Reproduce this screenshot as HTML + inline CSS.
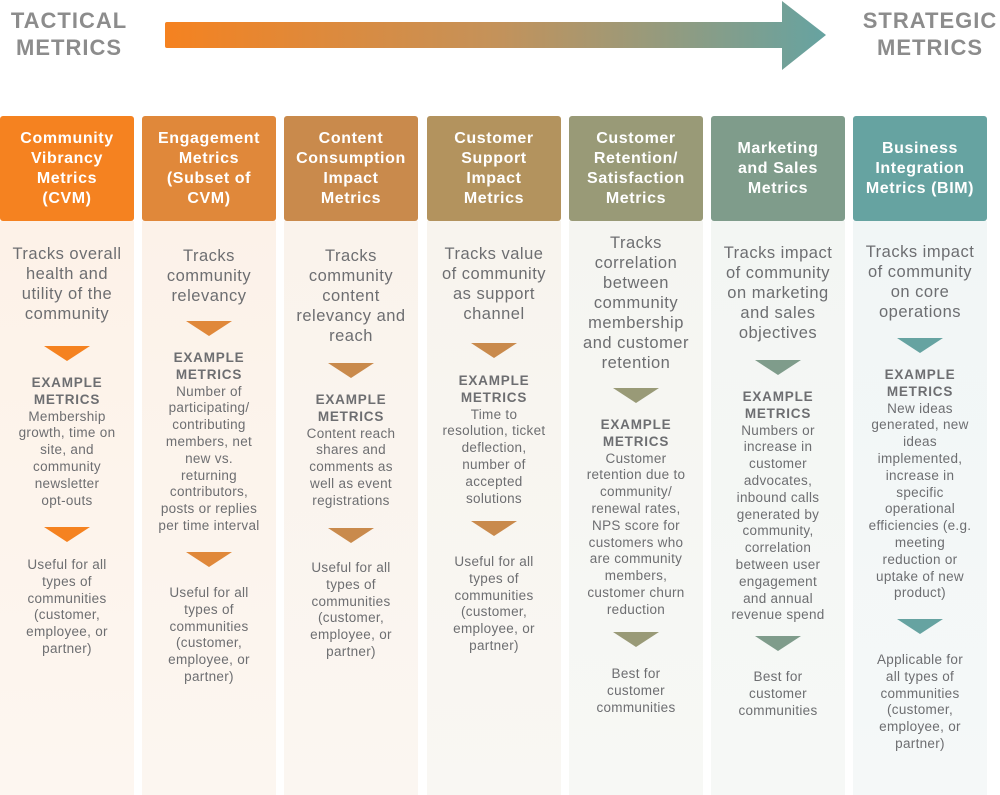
<!DOCTYPE html>
<html><head><meta charset="utf-8"><style>
*{margin:0;padding:0;box-sizing:border-box}
body{width:1000px;height:795px;background:#fff;position:relative;overflow:hidden;font-family:"Liberation Sans",sans-serif;color:#6d6e71}
.t{position:absolute;font-weight:bold;color:#8c8c8c;font-size:22px;line-height:27px;text-align:center;letter-spacing:1px}
.col{position:absolute;top:116px;width:134px;height:679px}
.hd{position:absolute;left:0;top:0;width:134px;height:105px;border-radius:3px;color:#fff;font-weight:bold;font-size:16px;line-height:20px;text-align:center;display:flex;align-items:center;justify-content:center;white-space:nowrap;letter-spacing:0.6px}
.bd{position:absolute;left:0;top:105px;width:134px;height:574px}
.d{position:absolute;left:-10px;width:154px;text-align:center;font-size:16.5px;line-height:20px;white-space:nowrap;letter-spacing:0.5px}
.s{position:absolute;left:-10px;width:154px;text-align:center;font-size:13.5px;line-height:16.8px;white-space:nowrap;letter-spacing:0.3px}
.s b{font-weight:bold;color:#6d6e71;letter-spacing:0.8px}
.tri{position:absolute;left:44px;width:0;height:0;border-left:23px solid transparent;border-right:23px solid transparent;border-top:15px solid}
</style></head><body>
<div class="t" style="left:6px;top:7px;width:126px">TACTICAL<br>METRICS</div>
<div class="t" style="left:860px;top:7px;width:140px">STRATEGIC<br>METRICS</div>
<svg style="position:absolute;left:0;top:0" width="1000" height="80">
<defs><linearGradient id="g" x1="165" x2="826" y1="0" y2="0" gradientUnits="userSpaceOnUse"><stop offset="0" stop-color="#f58220"/><stop offset="0.5" stop-color="#c4925a"/><stop offset="1" stop-color="#66a3a1"/></linearGradient></defs>
<path d="M167 22 H782 V1 L826 35 L782 70 V48 H167 Q165 48 165 46 V24 Q165 22 167 22Z" fill="url(#g)"/>
</svg>

<div class="col" style="left:0">
<div class="hd" style="background:#f58220">Community<br>Vibrancy<br>Metrics<br>(CVM)</div>
<div class="bd" style="background:linear-gradient(#fdf2e8,#fdf6f0)"></div>
<div class="d" style="top:128px">Tracks overall<br>health and<br>utility of the<br>community</div>
<div class="tri" style="top:230px;color:#f58220"></div>
<div class="s" style="top:259px"><b>EXAMPLE<br>METRICS</b><br>Membership<br>growth, time on<br>site, and<br>community<br>newsletter<br>opt-outs</div>
<div class="tri" style="top:411px;color:#f58220"></div>
<div class="s" style="top:441px">Useful for all<br>types of<br>communities<br>(customer,<br>employee, or<br>partner)</div>
</div>

<div class="col" style="left:142px">
<div class="hd" style="background:#e0883a">Engagement<br>Metrics<br>(Subset of<br>CVM)</div>
<div class="bd" style="background:linear-gradient(#fcf2e9,#fcf6f0)"></div>
<div class="d" style="top:130px">Tracks<br>community<br>relevancy</div>
<div class="tri" style="top:205px;color:#e0883a"></div>
<div class="s" style="top:234px"><b>EXAMPLE<br>METRICS</b><br>Number of<br>participating/<br>contributing<br>members, net<br>new vs.<br>returning<br>contributors,<br>posts or replies<br>per time interval</div>
<div class="tri" style="top:436px;color:#e0883a"></div>
<div class="s" style="top:469px">Useful for all<br>types of<br>communities<br>(customer,<br>employee, or<br>partner)</div>
</div>

<div class="col" style="left:284px">
<div class="hd" style="background:#c98a4c">Content<br>Consumption<br>Impact<br>Metrics</div>
<div class="bd" style="background:linear-gradient(#faf3ec,#fbf6f1)"></div>
<div class="d" style="top:130px">Tracks<br>community<br>content<br>relevancy and<br>reach</div>
<div class="tri" style="top:247px;color:#c98a4c"></div>
<div class="s" style="top:276px"><b>EXAMPLE<br>METRICS</b><br>Content reach<br>shares and<br>comments as<br>well as event<br>registrations</div>
<div class="tri" style="top:412px;color:#c98a4c"></div>
<div class="s" style="top:444px">Useful for all<br>types of<br>communities<br>(customer,<br>employee, or<br>partner)</div>
</div>

<div class="col" style="left:427px">
<div class="hd" style="background:#b3935e">Customer<br>Support<br>Impact<br>Metrics</div>
<div class="bd" style="background:linear-gradient(#f8f4ee,#f9f7f3)"></div>
<div class="d" style="top:128px">Tracks value<br>of community<br>as support<br>channel</div>
<div class="tri" style="top:227px;color:#c98a4c"></div>
<div class="s" style="top:257px"><b>EXAMPLE<br>METRICS</b><br>Time to<br>resolution, ticket<br>deflection,<br>number of<br>accepted<br>solutions</div>
<div class="tri" style="top:405px;color:#c98a4c"></div>
<div class="s" style="top:438px">Useful for all<br>types of<br>communities<br>(customer,<br>employee, or<br>partner)</div>
</div>

<div class="col" style="left:569px">
<div class="hd" style="background:#999a77">Customer<br>Retention/<br>Satisfaction<br>Metrics</div>
<div class="bd" style="background:linear-gradient(#f5f5f1,#f7f8f5)"></div>
<div class="d" style="top:117px">Tracks<br>correlation<br>between<br>community<br>membership<br>and customer<br>retention</div>
<div class="tri" style="top:272px;color:#999a77"></div>
<div class="s" style="top:301px"><b>EXAMPLE<br>METRICS</b><br>Customer<br>retention due to<br>community/<br>renewal rates,<br>NPS score for<br>customers who<br>are community<br>members,<br>customer churn<br>reduction</div>
<div class="tri" style="top:516px;color:#999a77"></div>
<div class="s" style="top:550px">Best for<br>customer<br>communities</div>
</div>

<div class="col" style="left:711px">
<div class="hd" style="background:#7f9c8b">Marketing<br>and Sales<br>Metrics</div>
<div class="bd" style="background:linear-gradient(#f3f6f3,#f6f8f6)"></div>
<div class="d" style="top:127px">Tracks impact<br>of community<br>on marketing<br>and sales<br>objectives</div>
<div class="tri" style="top:244px;color:#7f9c8b"></div>
<div class="s" style="top:273px"><b>EXAMPLE<br>METRICS</b><br>Numbers or<br>increase in<br>customer<br>advocates,<br>inbound calls<br>generated by<br>community,<br>correlation<br>between user<br>engagement<br>and annual<br>revenue spend</div>
<div class="tri" style="top:520px;color:#7f9c8b"></div>
<div class="s" style="top:553px">Best for<br>customer<br>communities</div>
</div>

<div class="col" style="left:853px">
<div class="hd" style="background:#66a3a1">Business<br>Integration<br>Metrics (BIM)</div>
<div class="bd" style="background:linear-gradient(#f1f6f6,#f5f8f8)"></div>
<div class="d" style="top:126px">Tracks impact<br>of community<br>on core<br>operations</div>
<div class="tri" style="top:222px;color:#66a3a1"></div>
<div class="s" style="top:251px"><b>EXAMPLE<br>METRICS</b><br>New ideas<br>generated, new<br>ideas<br>implemented,<br>increase in<br>specific<br>operational<br>efficiencies (e.g.<br>meeting<br>reduction or<br>uptake of new<br>product)</div>
<div class="tri" style="top:503px;color:#66a3a1"></div>
<div class="s" style="top:536px">Applicable for<br>all types of<br>communities<br>(customer,<br>employee, or<br>partner)</div>
</div>
</body></html>
